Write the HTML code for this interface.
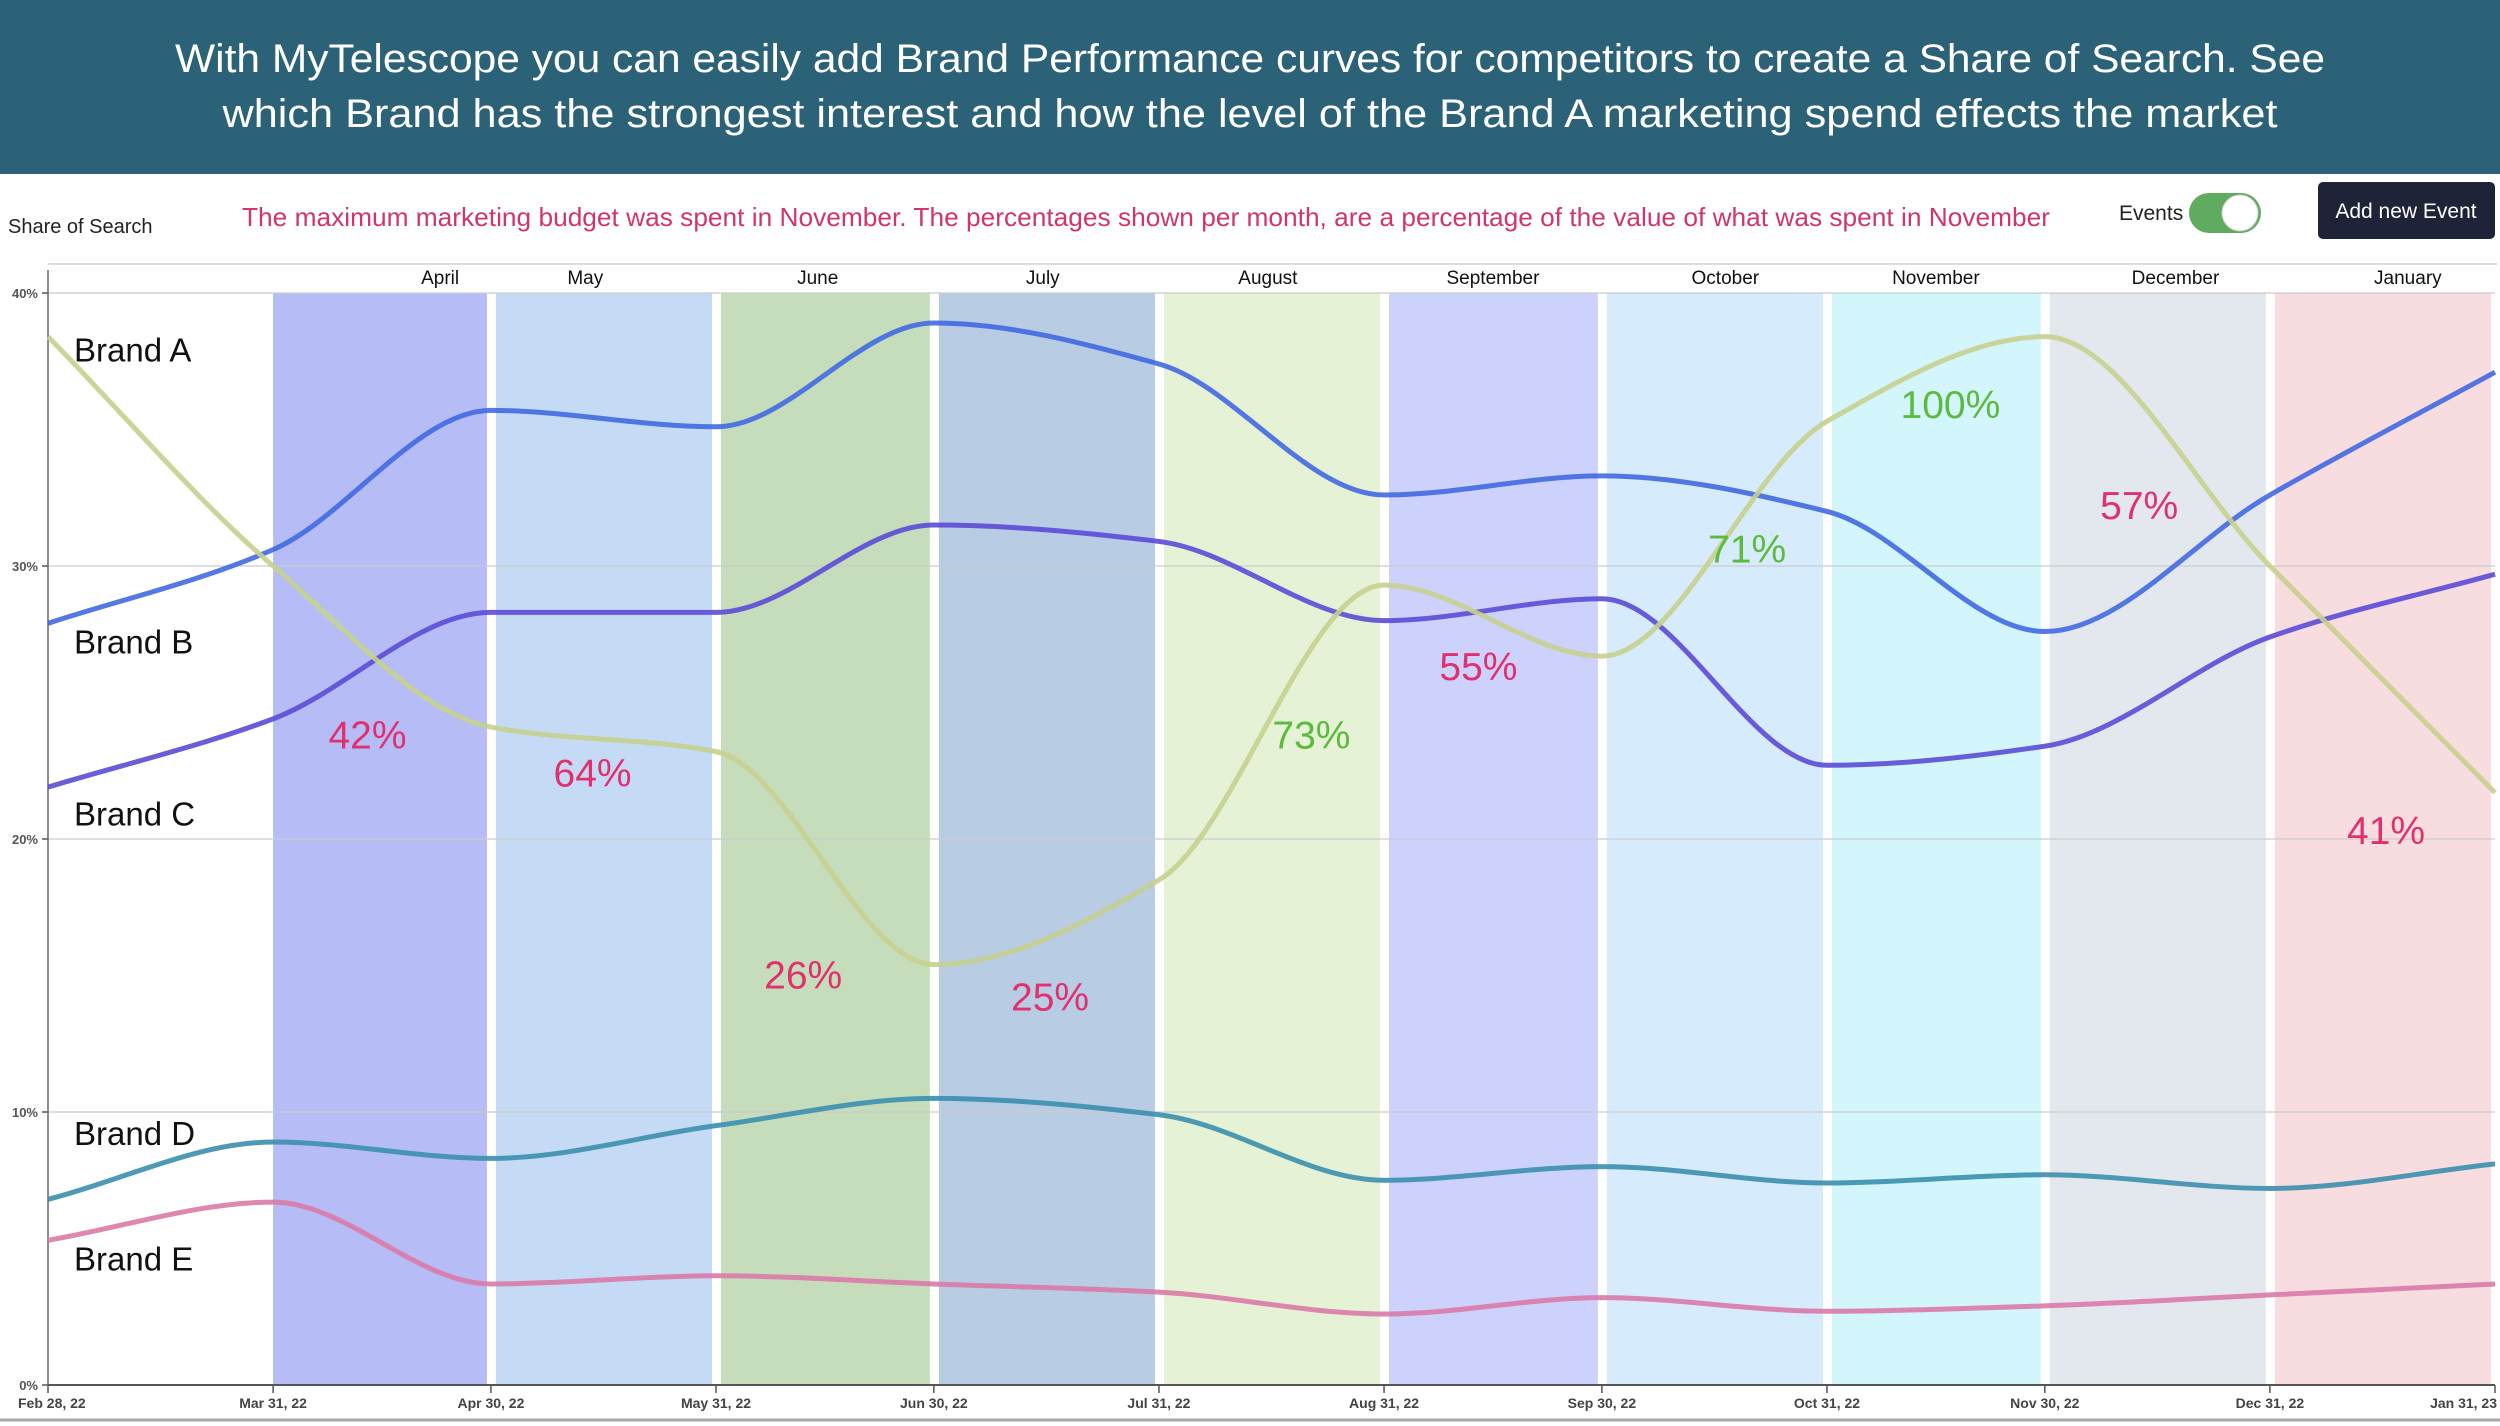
<!DOCTYPE html>
<html><head><meta charset="utf-8"><style>
html,body{margin:0;padding:0;background:#fff;}
svg{display:block;font-family:"Liberation Sans",sans-serif;}
</style></head><body>
<svg id="chart" width="2500" height="1426" viewBox="0 0 2500 1426" xmlns="http://www.w3.org/2000/svg">
<rect x="0" y="0" width="2500" height="174" fill="#2c6278"/>
<text x="1250" y="72" text-anchor="middle" fill="#fff" font-size="40" textLength="2150" lengthAdjust="spacingAndGlyphs">With MyTelescope you can easily add Brand Performance curves  for competitors to create a Share of Search. See</text>
<text x="1250" y="127" text-anchor="middle" fill="#fff" font-size="40" textLength="2055" lengthAdjust="spacingAndGlyphs">which Brand has the strongest interest and how the level of the Brand A marketing spend effects the market</text>
<text x="8" y="233" fill="#222" font-size="20">Share of Search</text>
<text x="242" y="226" fill="#d0356c" font-size="26" textLength="1808" lengthAdjust="spacingAndGlyphs">The maximum marketing budget was spent in November. The percentages shown per month, are a percentage of the value of what was spent in November</text>
<text x="2119" y="220" fill="#222" font-size="21">Events</text>
<g>
<rect x="2189" y="193" width="72" height="40" rx="20" fill="#5fab60"/>
<circle cx="2240" cy="213" r="18" fill="#fff" stroke="#ccc" stroke-width="1"/>
</g>
<g>
<rect x="2318" y="182" width="177" height="57" rx="5" fill="#1f2337"/>
<text x="2406" y="218" text-anchor="middle" fill="#fff" font-size="21">Add new Event</text>
</g>
<line x1="48" y1="264" x2="2497" y2="264" stroke="#ddd" stroke-width="2"/>
<g id="bands"></g>
<g id="grid"></g>
<g id="lines"></g>
<g id="labels"></g>
<line x1="0" y1="1420" x2="2500" y2="1420" stroke="#aaa" stroke-width="3"/>
</svg>
<script>
const tickDays=[0,31,61,92,122,153,184,214,245,275,306,337];
const tickLabels=["Feb 28, 22","Mar 31, 22","Apr 30, 22","May 31, 22","Jun 30, 22","Jul 31, 22","Aug 31, 22","Sep 30, 22","Oct 31, 22","Nov 30, 22","Dec 31, 22","Jan 31, 23"];
const yTicks=[0,10,20,30,40];
const months=["April","May","June","July","August","September","October","November","December","January"];
const monthLabelDays=[54,74,106,137,168,199,231,260,293,325];
const monthColors=["#b6bcf5","#c5dbf5","#c6ddbc","#b8cde3","#e5f2d6","#ccd2fc","#d6ebfb","#d3f5fc","#e3e8ef","#f8dde0"];
const brandNames=["Brand A","Brand B","Brand C","Brand D","Brand E"];
const brandColors=["#4169e1","#5b4bd6","#c6d08e","#3b8fae","#d97aa8"];
const brandA=[27.9,30.6,35.7,35.1,38.9,37.4,32.6,33.3,32.0,27.6,32.6,37.1];
const brandB=[21.9,24.4,28.3,28.3,31.5,30.9,28.0,28.8,22.7,23.4,27.4,29.7];
const brandC=[38.4,30.0,24.1,23.2,15.4,18.5,29.3,26.7,35.3,38.4,30.0,21.7];
const brandD=[6.8,8.9,8.3,9.5,10.5,9.9,7.5,8.0,7.4,7.7,7.2,8.1];
const brandE=[5.3,6.7,3.7,4.0,3.7,3.4,2.6,3.2,2.7,2.9,3.3,3.7];
const brandLabelVals=[37.9,27.2,20.9,9.2,4.6];
const spendLabels=["42%","64%","26%","25%","73%","55%","71%","100%","57%","41%"];
const spendDays=[44,75,104,138,174,197,234,262,288,322];
const spendVals=[23.8,22.4,15.0,14.2,23.8,26.3,30.6,35.9,32.2,20.3];
const spendGreen=[false,false,false,false,true,false,true,true,false,false];

const X0=48,X1=2495,Y0=1385,Y40=293;
const x=d=>X0+d*(X1-X0)/337;
const y=v=>Y0-v*(Y0-Y40)/40;
const NS="http://www.w3.org/2000/svg";
function mk(tag,attrs,parent){const e=document.createElementNS(NS,tag);for(const k in attrs)e.setAttribute(k,attrs[k]);parent.appendChild(e);return e;}
const bands=document.getElementById('bands'),grid=document.getElementById('grid'),lines=document.getElementById('lines'),labels=document.getElementById('labels');

months.forEach((m,i)=>{
  const a=x(tickDays[i+1])+(i===0?0:5),b=x(tickDays[i+2])-4;
  const r=mk('rect',{x:a,y:Y40,width:b-a,height:Y0-Y40,fill:monthColors[i]},bands);
  
  
  const t=mk('text',{x:x(monthLabelDays[i]),y:284,'text-anchor':'middle','font-size':19,fill:'#111'},bands);
  t.textContent=m;
  
  
});
yTicks.forEach(v=>{
  const l=mk('line',{x1:X0,x2:X1,y1:y(v),y2:y(v),stroke:v===0?'#555':'#ccc','stroke-width':v===0?2:1.2},grid);
  
  
  mk('line',{x1:X0-6,x2:X0,y1:y(v),y2:y(v),stroke:'#555','stroke-width':1.5},grid);
  const t=mk('text',{x:X0-10,y:y(v)+5,'text-anchor':'end','font-size':13,'font-weight':'bold',fill:'#555'},grid);
  t.textContent=v+'%';
  
  
});
const ax=mk('line',{x1:X0,x2:X0,y1:270,y2:Y0,stroke:'#666','stroke-width':1.5},grid);


tickDays.forEach((d,i)=>{
  mk('line',{x1:x(d),x2:x(d),y1:Y0,y2:Y0+8,stroke:'#555','stroke-width':1.5},grid);
  const anchor=i===0?'start':(i===tickDays.length-1?'end':'middle');
  const t=mk('text',{x:i===0?18:(i===tickDays.length-1?2497:x(d)),y:1408,'text-anchor':anchor,'font-size':14,'font-weight':'bold',fill:'#444'},grid);
  t.textContent=tickLabels[i];
  
  
});
function monoPath(xs,ys){
  const n=xs.length,dx=[],m=[],t=[];
  for(let i=0;i<n-1;i++){dx.push(xs[i+1]-xs[i]);m.push((ys[i+1]-ys[i])/dx[i]);}
  t[0]=m[0];t[n-1]=m[n-2];
  for(let i=1;i<n-1;i++){t[i]=(m[i-1]*m[i]<=0)?0:(3*(dx[i-1]+dx[i]))/((2*dx[i]+dx[i-1])/m[i-1]+(dx[i]+2*dx[i-1])/m[i]);}
  let p='M'+xs[0]+','+ys[0];
  for(let i=0;i<n-1;i++){const h=dx[i]/3;p+=' C'+(xs[i]+h)+','+(ys[i]+t[i]*h)+' '+(xs[i+1]-h)+','+(ys[i+1]-t[i+1]*h)+' '+xs[i+1]+','+ys[i+1];}
  return p;
}
[brandA,brandB,brandC,brandD,brandE].forEach((s,k)=>{
  const p=mk('path',{d:monoPath(tickDays.map(x),s.map(y)),fill:'none',stroke:brandColors[k],'stroke-width':5,'stroke-opacity':0.9},lines);
  
  
  const t=mk('text',{x:74,y:y(brandLabelVals[k])+11,'font-size':33,fill:'#111'},labels);
  t.textContent=brandNames[k];
  
  
});
spendLabels.forEach((s,i)=>{
  const t=mk('text',{x:x(spendDays[i]),y:y(spendVals[i])+13,'text-anchor':'middle','font-size':39,fill:spendGreen[i]?'#5cba3c':'#e0306e'},labels);
  t.textContent=s;
  
  
});
</script>
</body></html>
